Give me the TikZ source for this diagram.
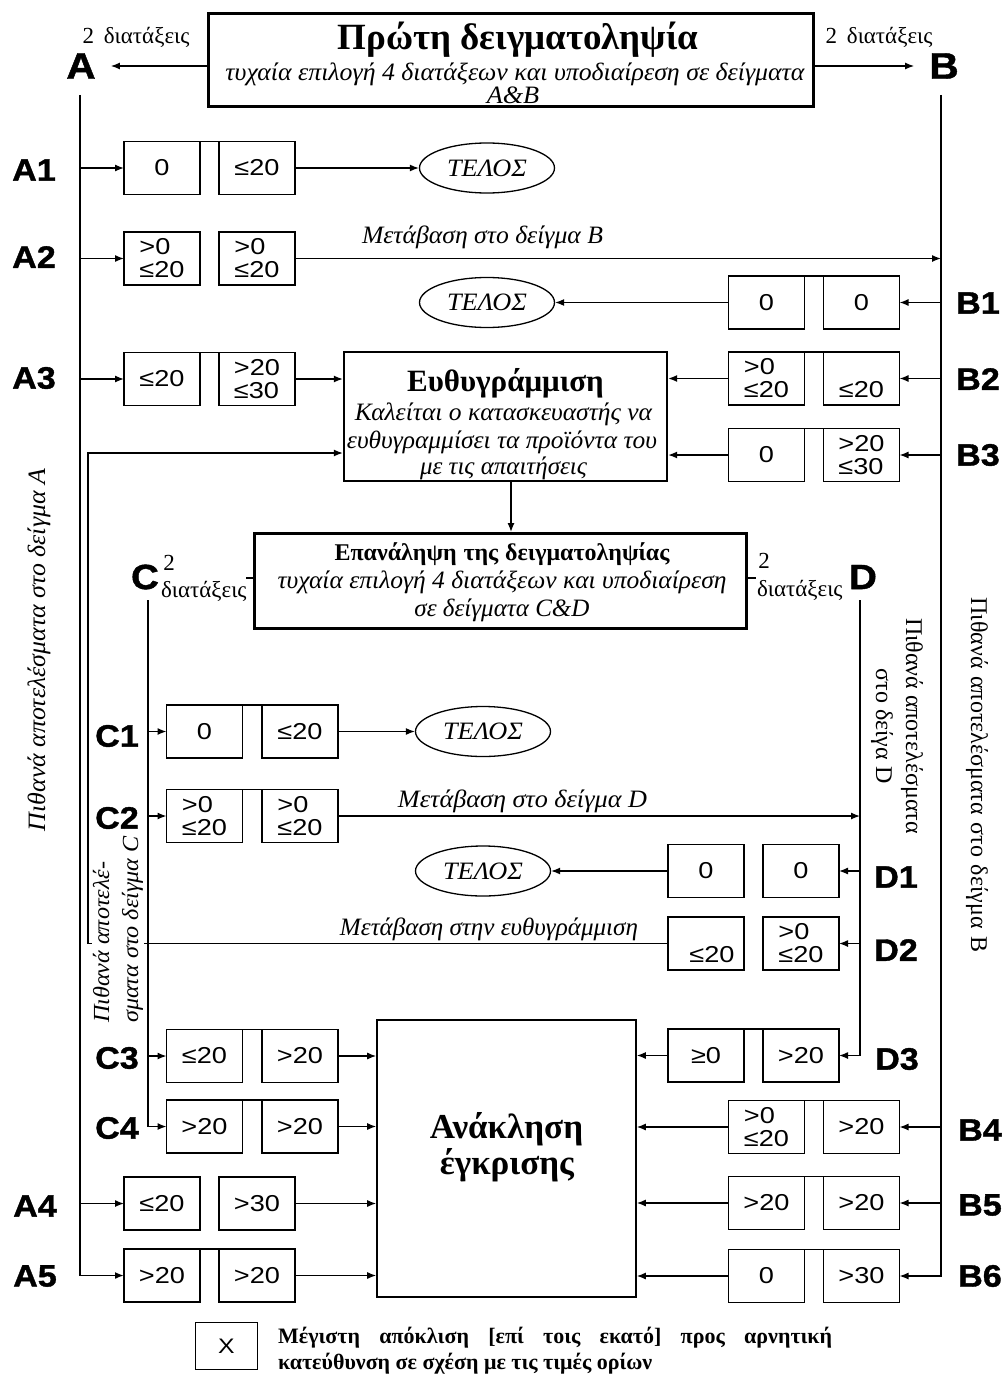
\documentclass[tikz,border=0pt]{standalone}
\usepackage{fontspec}
\usepackage{graphicx}
\setmainfont{Liberation Serif}[ItalicFeatures={FakeStretch=1.05}]
\newfontfamily\sansf[FakeStretch=1.18]{Liberation Sans}
\newfontfamily\labf[FakeStretch=1.1,FakeBold=1.2]{Liberation Sans Bold}
\usetikzlibrary{arrows.meta,shapes.geometric}
\newcommand\fs[1]{\fontsize{#1}{#1}\selectfont}
\newsavebox\fitbox
\newcommand\jb[2]{\sbox\fitbox{#2}\ifdim\wd\fitbox>#1pt\relax\resizebox{#1pt}{\height}{\usebox\fitbox}\else\makebox[#1pt][s]{#2}\fi}
\newcommand\mkrow[6]{%
  \node[vb] (#1l) at (#2,#4) {#5};
  \node[vb] (#1r) at (#3,#4) {#6};}
\begin{document}
\begin{tikzpicture}[x=1pt,y=-1pt,
  vb/.style={draw, line width=1.6pt, outer sep=0pt, minimum width=76pt, minimum height=53pt, inner sep=0pt, align=left, font=\sansf\fontsize{23}{23}\selectfont},
  lab/.style={inner sep=0pt, font=\labf\fs{31}},
  biglab/.style={inner sep=0pt, font=\labf\fs{37}},
  telos/.style={ellipse, draw, line width=1.3pt, minimum width=135pt, minimum height=50pt, inner sep=0pt, font=\itshape\fs{25}},
  arr/.style={line width=1.3pt, -{Latex[length=9pt,width=7pt]}},
  ln/.style={line width=1.3pt},
  itx/.style={inner sep=0pt, anchor=base, font=\itshape\fs{25}},
  bfx/.style={inner sep=0pt, anchor=base, font=\bfseries\fs{22}},
  rmx/.style={inner sep=0pt, anchor=base, font=\fs{23}},
]
\useasboundingbox (0,0) rectangle (1008,1378);
\fill[white] (0,0) rectangle (1008,1378);

% ---------- top box
\node[draw, line width=3.5pt, minimum width=605pt, minimum height=93pt, inner sep=0pt] (top) at (511,60) {};
\node[anchor=base, inner sep=0pt, font=\bfseries\fs{37}] (ttitle) at (518,50) {Πρώτη δειγματοληψία};
\node[itx] (tsub) at (515,81) {\jb{579}{τυχαία επιλογή 4 διατάξεων και υποδιαίρεση σε δείγματα}};
\node[itx] (tab) at (513,104) {A\&B};
\node[rmx] (tl2) at (136,44) {\jb{107}{2 διατάξεις}};
\node[rmx] (tr2) at (879,44) {\jb{107}{2 διατάξεις}};
\node[biglab] (A) at (81,66) {A};
\node[biglab] (B) at (944,66) {B};
\draw[arr, shorten >=15pt] (top.west |- A) -- (A);
\draw[arr, shorten >=15pt] (top.east |- B) -- (B);

\coordinate (abus) at (80,95);
\coordinate (bbus) at (941,95);
\coordinate (cbus) at (148,600);
\coordinate (dbus) at (860,600);
\coordinate (r1) at (88,945);
\coordinate (r2) at (88,453);

% ---------- rows A
\mkrow{a1}{162}{257}{168}{0}{≤20}
\mkrow{a2}{162}{257}{258.5}{>0\\≤20}{>0\\≤20}
\mkrow{a3}{162}{257}{379}{≤20}{>20\\≤30}
\mkrow{a4}{162}{257}{1203.5}{≤20}{>30}
\mkrow{a5}{162}{257}{1275.5}{>20}{>20}
\node[lab] (la1) at (34,170) {A1};
\node[lab] (la2) at (34,257) {A2};
\node[lab] (la3) at (34,378) {A3};
\node[lab] (la4) at (35,1206) {A4};
\node[lab] (la5) at (35,1276) {A5};

% ---------- rows B
\mkrow{b1}{766.5}{861.5}{302.5}{0}{0}
\mkrow{b2}{766.5}{861.5}{378.5}{>0\\≤20}{\phantom{0}\\≤20}
\mkrow{b3}{766.5}{861.5}{455}{0}{>20\\≤30}
\mkrow{b4}{766.5}{861.5}{1127}{>0\\≤20}{>20}
\mkrow{b5}{766.5}{861.5}{1203}{>20}{>20}
\mkrow{b6}{766.5}{861.5}{1276}{0}{>30}
\node[lab] (lb1) at (978,303) {B1};
\node[lab] (lb2) at (978,379) {B2};
\node[lab] (lb3) at (978,455) {B3};
\node[lab] (lb4) at (980,1130) {B4};
\node[lab] (lb5) at (980,1205) {B5};
\node[lab] (lb6) at (980,1276) {B6};

% ---------- ellipses
\node[telos] (t1) at (487,168) {ΤΕΛΟΣ};
\node[telos] (t2) at (487,302.5) {ΤΕΛΟΣ};
\node[telos] (t3) at (483,731.5) {ΤΕΛΟΣ};
\node[telos] (t4) at (483,871) {ΤΕΛΟΣ};

% ---------- alignment box
\node[draw, line width=2.4pt, minimum width=323pt, minimum height=129pt, inner sep=0pt] (euth) at (505.5,416.5) {};
\node[bfx, font=\bfseries\fs{31}] (e1) at (505.5,391) {Ευθυγράμμιση};
\node[itx] (e2) at (503.5,420) {\jb{297}{Καλείται ο κατασκευαστής να}};
\node[itx] (e3) at (502,448) {\jb{310}{ευθυγραμμίσει τα προϊόντα του}};
\node[itx] (e4) at (503.5,474) {\jb{167}{με τις απαιτήσεις}};

% ---------- repeat box
\node[draw, line width=3pt, minimum width=492pt, minimum height=95pt, inner sep=0pt] (rep) at (500.5,581) {};
\node[bfx, font=\bfseries\fs{24}] (rp1) at (502,560) {\jb{335}{Επανάληψη της δειγματοληψίας}};
\node[itx] (rp2) at (502,588) {\jb{449}{τυχαία επιλογή 4 διατάξεων και υποδιαίρεση}};
\node[itx] (rp3) at (502,616) {\jb{175}{σε δείγματα C\&D}};

\node[lab, font=\labf\fs{35}] (C) at (145,577) {C};
\node[rmx] (csup) at (169,570) {2};
\node[rmx] (cdt) at (204.5,597) {\jb{87}{διατάξεις}};
\node[lab, font=\labf\fs{35}] (D) at (863,577) {D};
\node[rmx] (dsup) at (764,568) {2};
\node[rmx] (ddt) at (800,596) {\jb{86}{διατάξεις}};
\coordinate (cst) at (246,578);
\coordinate (dst) at (756,578);
\draw[ln] (rep.west |- cst) -- (cst);
\draw[ln] (rep.east |- dst) -- (dst);

% ---------- rows C
\mkrow{c1}{204.5}{300}{731.5}{0}{≤20}
\mkrow{c2}{204.5}{300}{816}{>0\\≤20}{>0\\≤20}
\mkrow{c3}{204.5}{300}{1056}{≤20}{>20}
\mkrow{c4}{204.5}{300}{1126.5}{>20}{>20}
\node[lab] (lc1) at (117,736) {C1};
\node[lab] (lc2) at (117,818) {C2};
\node[lab] (lc3) at (117,1058) {C3};
\node[lab] (lc4) at (117,1128) {C4};

% ---------- rows D
\mkrow{d1}{706}{801}{871}{0}{0}
\mkrow{d2}{706}{801}{943.5}{\phantom{0}\\\hspace*{12pt}≤20}{>0\\≤20}
\mkrow{d3}{706}{801}{1055.5}{≥0}{>20}
\node[lab] (ld1) at (896,877) {D1};
\node[lab] (ld2) at (896,950) {D2};
\node[lab] (ld3) at (897,1059) {D3};

% top edges joining the two boxes of a pair
\foreach \r in {a1,a3,a5,b1,b2,b3,b4,b5,b6,c1,c2,c3,c4,d3}
  {\draw[line width=1.6pt] (\r l.north east) -- (\r r.north west);}

% ---------- revocation box
\node[draw, line width=1.6pt, minimum width=259pt, minimum height=277pt, inner sep=0pt] (rev) at (506.5,1158.5) {};
\node[bfx, font=\bfseries\fs{35}] (v1) at (506.5,1138) {Ανάκληση};
\node[bfx, font=\bfseries\fs{35}] (v2) at (507,1174) {έγκρισης};

% ---------- transition labels
\node[itx] (m1) at (482.5,243) {\jb{241}{Μετάβαση στο δείγμα B}};
\node[itx] (m2) at (522.5,807) {\jb{249}{Μετάβαση στο δείγμα D}};
\node[itx] (m3) at (489,935) {\jb{298}{Μετάβαση στην ευθυγράμμιση}};

% ---------- connectors
\draw[arr, line width=1.8pt] (abus) |- (a5l);
\draw[arr] (bbus) |- (b6r);
\foreach \r in {a1,a2,a3,a4} {\draw[arr] (abus |- \r l) -- (\r l);}
\foreach \r in {b1,b2,b3,b4,b5} {\draw[arr] (bbus |- \r r) -- (\r r);}
\draw[arr] (a1r) -- (t1);
\draw[arr] (a2r) -- (a2r -| bbus);
\draw[arr] (a3r) -- (a3r -| euth.west);
\draw[arr] (a4r) -- (a4r -| rev.west);
\draw[arr] (a5r) -- (a5r -| rev.west);
\draw[arr] (b1l) -- (t2);
\draw[arr] (b2l) -- (b2l -| euth.east);
\draw[arr] (b3l) -- (b3l -| euth.east);
\draw[arr] (b4l) -- (b4l -| rev.east);
\draw[arr] (b5l) -- (b5l -| rev.east);
\draw[arr] (b6l) -- (b6l -| rev.east);
\draw[arr] ([xshift=5.5pt]euth.south) -- ([xshift=5.5pt]euth.south |- rep.north);

\draw[arr] (d2l) -- (d2l -| r1) -- (r2) -- (r2 -| euth.west);
\node[inner sep=1pt, fill=white, rotate=90, align=left, anchor=west, font=\itshape\fontsize{23}{29}\selectfont] (pc) at (118,1024) {Πιθανά αποτελέ-\\σματα στο δείγμα C};

\draw[arr] (cbus) |- (c4l);
\draw[arr] (dbus) |- (d3r);
\foreach \r in {c1,c2,c3} {\draw[arr] (cbus |- \r l) -- (\r l);}
\foreach \r in {d1,d2} {\draw[arr] (dbus |- \r r) -- (\r r);}
\draw[arr] (c1r) -- (t3);
\draw[arr] (c2r) -- (c2r -| dbus);
\draw[arr] (c3r) -- (c3r -| rev.west);
\draw[arr] (c4r) -- (c4r -| rev.west);
\draw[arr] (d1l) -- (t4);
\draw[arr] (d3l) -- (d3l -| rev.east);

% ---------- rotated side texts
\node[inner sep=0pt, rotate=90, font=\itshape\fs{25}] (pa) at (39,650) {\jb{362}{Πιθανά αποτελέσματα στο δείγμα A}};
\node[inner sep=0pt, rotate=-90, font=\fs{24}] (pb) at (977,775) {\jb{355}{Πιθανά αποτελέσματα στο δείγμα B}};
\node[inner sep=0pt, rotate=-90, align=center, font=\fontsize{24}{30}\selectfont] (pd) at (897,726) {Πιθανά αποτελέσματα\\στο δείγα D};

% ---------- legend
\node[draw, line width=1.6pt, minimum width=62pt, minimum height=47pt, inner sep=0pt, font=\sansf\fs{21}] (leg) at (226.5,1346) {X};
\node[bfx, anchor=base west] (lg1) at (278,1343) {\jb{554}{Μέγιστη απόκλιση [επί τοις εκατό] προς αρνητική}};
\node[bfx, anchor=base west] (lg2) at (278,1369) {κατεύθυνση σε σχέση με τις τιμές ορίων};
\end{tikzpicture}
\end{document}
